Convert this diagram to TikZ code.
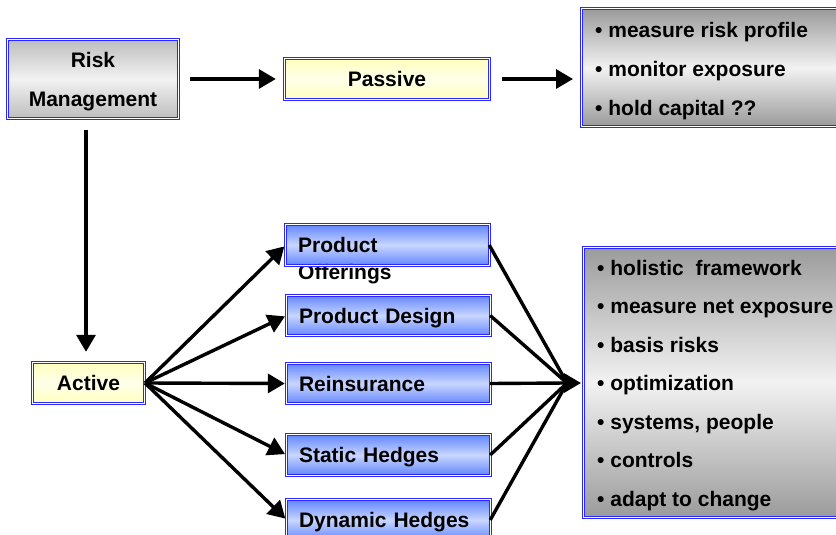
\documentclass[tikz,border=0pt]{standalone}
\usepackage{fontspec}
\setmainfont{Liberation Sans}
\usetikzlibrary{arrows.meta}
\definecolor{bordblue}{RGB}{40,40,255}
\definecolor{grayA}{RGB}{155,155,155}
\definecolor{grayB}{RGB}{242,242,242}
\definecolor{grayR}{RGB}{190,190,190}
\definecolor{blueA}{RGB}{100,135,255}
\definecolor{blueB}{RGB}{200,214,255}
\definecolor{yelA}{RGB}{255,255,190}
\definecolor{yelB}{RGB}{255,255,235}
\begin{document}
\begin{tikzpicture}[x=1pt,y=-1pt,
  boxbase/.style={font=\bfseries\fontsize{21}{39}\selectfont, inner sep=0pt, text depth=0pt},
  frame/.style={draw=bordblue, line width=1pt, double=white, double distance=1pt},
  grayshade/.style={boxbase, top color=grayR, bottom color=grayR, middle color=grayB, text depth=-1.5pt},
  listbox/.style={boxbase, top color=grayA, bottom color=grayA, middle color=grayB,
    anchor=north west, minimum width=294pt},
  listtext/.style={boxbase, anchor=west, align=left, xshift=14pt, yshift=-1pt},
  yelbox/.style={boxbase, top color=yelA, bottom color=yelA, middle color=yelB, align=center},
  bluebox/.style={boxbase, top color=blueA, bottom color=blueA, middle color=blueB,
    minimum width=203pt, minimum height=40pt, text width=179pt, inner xsep=12pt, align=left},
  conn/.style={line width=3.4pt},
  arr/.style={conn, -{Triangle[length=17pt,width=19pt]}}
]
\useasboundingbox (0,0) rectangle (836,535);
\clip (0,0) rectangle (836,535);

% top row
\node[grayshade, minimum width=170pt, minimum height=78pt, align=center] (rm) at (93,79) {Risk\\Management};
\node[yelbox, minimum width=204pt, minimum height=40pt] (passive) at (387,79) {Passive};
\node[listbox, minimum height=117pt] (pout) at (581,9) {};
\node[listtext] (pout-t) at (pout.west)
  {• measure risk profile\\• monitor exposure\\• hold capital ??};

% active
\node[yelbox, minimum width=111pt, minimum height=40pt] (active) at (88.5,383) {Active};

% blue boxes
\node[bluebox] (po) at (387.5,245) {};
\node[anchor=west, font=\bfseries\fontsize{21}{27}\selectfont, align=left, inner sep=0pt] (pot) at (298,261) {Product\\Offerings};
\node[bluebox] (pd) at (388.5,315.5) {Product Design};
\node[bluebox] (re) at (388.5,383.5) {Reinsurance};
\node[bluebox] (sh) at (388.5,455) {Static Hedges};
\node[bluebox] (dh) at (388.5,520) {Dynamic Hedges};

% right list
\node[listbox, minimum height=270pt] (aout) at (583,247) {};
\node[listtext, font=\bfseries\fontsize{21}{38.5}\selectfont] (aout-t) at (aout.west)
  {• holistic\ \ framework\\• measure net exposure\\• basis risks\\• optimization\\• systems, people\\• controls\\• adapt to change};

% double blue frames
\foreach \n in {rm,passive,pout,active,po,pd,re,sh,dh,aout}
  \draw[frame] (\n.south west) rectangle (\n.north east);

% arrows top
\draw[arr, shorten <=12pt, shorten >=9pt] (rm.east) -- (passive.west);
\draw[arr, shorten <=13pt, shorten >=8pt] (passive.east) -- (pout.west |- passive.east);
\draw[arr, shorten <=12pt, shorten >=11pt] (rm.south -| 86,0) -- (active.north -| 86,0);

% arrows from active
\coordinate (src) at (145,383);
\draw[arr, shorten >=2pt] (src) -- (po.west);
\draw[arr, shorten >=2pt] (src) -- (pd.west);
\draw[arr, shorten >=2pt] (src) -- (re.west);
\draw[arr, shorten >=2pt] (src) -- (sh.west);
\draw[arr, shorten >=2pt] (src) -- (dh.west);

% converging lines
\coordinate (conv) at (567,383);
\draw[conn] (po.east) -- (conv);
\draw[conn] (pd.east) -- (conv);
\draw[conn] (re.east) -- (conv);
\draw[conn] (sh.east) -- (conv);
\draw[conn] (dh.east) -- (conv);
\draw[arr, shorten >=2pt] (conv) -- (aout.west |- conv);
\end{tikzpicture}
\end{document}
